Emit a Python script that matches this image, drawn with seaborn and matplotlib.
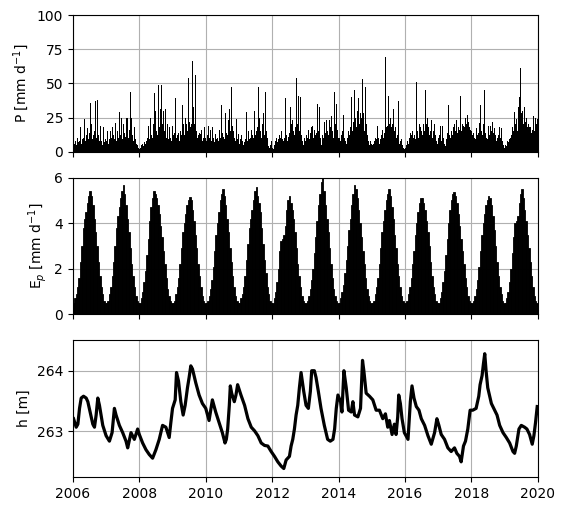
import numpy as np
import pandas as pd
import matplotlib
matplotlib.use("Agg")
import matplotlib.pyplot as plt
import seaborn as sns

years = list(range(2006, 2020))

# Precipitation, ~10-day values (36 per year), mm/d
p_2006 = [11, 6, 8, 5, 19, 10, 7, 8, 18, 6, 9, 10, 24, 8, 12, 17, 9, 10, 14, 36, 20, 9, 12, 15, 37, 10, 38, 12, 8, 19, 6, 8, 5, 18, 7, 9]
p_2007 = [8, 15, 6, 9, 15, 10, 18, 49, 12, 9, 21, 8, 15, 10, 29, 12, 25, 9, 20, 14, 33, 11, 25, 25, 10, 16, 44, 25, 12, 8, 18, 9, 6, 18, 5, 3]
p_2008 = [2, 3, 5, 6, 4, 7, 6, 8, 10, 19, 8, 9, 25, 12, 10, 20, 43, 30, 15, 12, 49, 18, 31, 12, 49, 20, 30, 15, 31, 10, 20, 9, 18, 10, 8, 19]
p_2009 = [9, 12, 14, 39, 10, 12, 14, 8, 15, 12, 34, 20, 12, 15, 25, 20, 15, 54, 22, 18, 20, 66, 33, 20, 56, 15, 16, 10, 12, 14, 13, 16, 8, 10, 18, 10]
p_2010 = [8, 12, 19, 9, 10, 16, 8, 18, 10, 7, 13, 9, 10, 8, 16, 10, 12, 34, 14, 11, 9, 28, 14, 12, 23, 31, 15, 47, 12, 19, 15, 10, 8, 24, 9, 13]
p_2011 = [6, 9, 12, 8, 5, 10, 7, 9, 29, 8, 15, 9, 10, 16, 12, 10, 30, 12, 43, 15, 18, 47, 25, 15, 10, 20, 28, 12, 44, 15, 10, 19, 4, 3, 5, 8]
p_2012 = [3, 2, 5, 8, 10, 7, 9, 12, 8, 10, 15, 9, 8, 10, 39, 12, 8, 11, 14, 33, 20, 28, 23, 15, 12, 18, 54, 20, 41, 15, 40, 12, 8, 5, 7, 10]
p_2013 = [8, 12, 10, 16, 9, 14, 18, 19, 10, 16, 12, 9, 14, 35, 15, 33, 10, 5, 12, 10, 22, 14, 23, 15, 24, 12, 23, 18, 26, 15, 10, 44, 20, 35, 16, 10]
p_2014 = [10, 16, 8, 12, 15, 27, 10, 8, 6, 10, 15, 12, 18, 40, 20, 15, 22, 45, 25, 18, 30, 39, 20, 28, 25, 53, 28, 20, 15, 47, 20, 12, 8, 5, 8, 6]
p_2015 = [5, 6, 8, 10, 19, 9, 19, 10, 6, 9, 12, 16, 10, 14, 69, 18, 15, 19, 41, 20, 25, 18, 20, 31, 15, 18, 10, 12, 37, 12, 6, 8, 9, 5, 3, 2]
p_2016 = [3, 5, 8, 6, 10, 14, 21, 12, 15, 10, 12, 9, 51, 15, 10, 20, 18, 15, 12, 52, 20, 15, 45, 20, 25, 18, 12, 15, 23, 10, 15, 20, 31, 12, 8, 6]
p_2017 = [10, 12, 19, 8, 19, 10, 6, 4, 9, 12, 14, 34, 12, 10, 15, 12, 18, 20, 15, 23, 14, 18, 22, 16, 41, 15, 20, 19, 18, 25, 20, 27, 22, 18, 16, 10]
p_2018 = [15, 12, 14, 10, 9, 17, 12, 14, 21, 34, 15, 12, 50, 20, 45, 14, 10, 9, 19, 12, 19, 15, 22, 14, 17, 20, 12, 8, 10, 12, 18, 10, 17, 8, 5, 3]
p_2019 = [5, 4, 6, 8, 7, 9, 10, 12, 18, 15, 29, 20, 24, 15, 33, 22, 40, 61, 28, 30, 20, 33, 22, 25, 18, 20, 18, 12, 18, 14, 16, 26, 15, 25, 20, 24]
p_by_year = [p_2006, p_2007, p_2008, p_2009, p_2010, p_2011, p_2012,
             p_2013, p_2014, p_2015, p_2016, p_2017, p_2018, p_2019]

# Potential evaporation, half-monthly (24 per year), mm/d
ep_2006 = [0.5, 0.7, 0.9, 1.2, 1.6, 2.3, 3.0, 3.8, 4.2, 4.5, 4.9, 5.2, 5.4, 5.2, 4.8, 4.2, 3.6, 3.0, 2.3, 1.7, 1.2, 0.9, 0.6, 0.5]
ep_2007 = [0.5, 0.6, 0.9, 1.2, 1.7, 2.3, 3.0, 3.8, 4.3, 4.7, 5.1, 5.4, 5.7, 5.3, 4.8, 4.2, 3.6, 2.9, 2.2, 1.7, 1.2, 0.8, 0.6, 0.5]
ep_2008 = [0.5, 0.7, 1.0, 1.4, 1.9, 2.6, 3.3, 4.1, 4.7, 5.1, 5.4, 5.3, 5.1, 4.8, 4.4, 3.9, 3.4, 2.8, 2.2, 1.6, 1.1, 0.8, 0.6, 0.5]
ep_2009 = [0.5, 0.6, 0.9, 1.2, 1.6, 2.2, 2.9, 3.6, 4.0, 4.4, 4.8, 5.0, 5.15, 5.0, 4.6, 4.1, 3.5, 2.9, 2.2, 1.7, 1.2, 0.8, 0.6, 0.5]
ep_2010 = [0.5, 0.6, 0.8, 1.1, 1.5, 2.1, 2.8, 3.5, 4.0, 4.5, 5.0, 5.3, 5.5, 5.2, 4.8, 4.2, 3.6, 2.9, 2.3, 1.7, 1.2, 0.8, 0.6, 0.5]
ep_2011 = [0.5, 0.7, 0.9, 1.2, 1.7, 2.4, 3.1, 3.8, 4.2, 4.6, 5.0, 5.4, 5.6, 5.2, 4.9, 4.5, 3.8, 3.1, 2.4, 1.8, 1.2, 0.9, 0.6, 0.5]
ep_2012 = [0.5, 0.7, 1.0, 1.4, 2.0, 2.8, 3.2, 3.3, 3.5, 3.9, 4.6, 5.0, 5.2, 4.9, 4.6, 4.2, 3.6, 2.9, 2.2, 1.7, 1.2, 0.8, 0.6, 0.5]
ep_2013 = [0.5, 0.6, 0.8, 1.1, 1.5, 2.0, 2.7, 3.4, 4.1, 4.8, 5.3, 5.8, 6.0, 5.4, 4.8, 4.2, 3.6, 2.9, 2.2, 1.6, 1.1, 0.8, 0.6, 0.5]
ep_2014 = [0.5, 0.7, 1.0, 1.3, 1.8, 2.4, 3.0, 3.7, 4.2, 4.8, 5.3, 5.7, 5.5, 5.1, 4.6, 4.0, 3.4, 2.8, 2.2, 1.6, 1.1, 0.8, 0.6, 0.5]
ep_2015 = [0.5, 0.6, 0.9, 1.2, 1.6, 2.2, 2.9, 3.6, 4.1, 4.6, 5.0, 5.3, 5.5, 5.2, 4.7, 4.2, 3.5, 2.9, 2.2, 1.7, 1.2, 0.8, 0.6, 0.5]
ep_2016 = [0.5, 0.6, 0.9, 1.2, 1.6, 2.2, 2.8, 3.5, 4.0, 4.5, 4.9, 5.1, 5.1, 4.9, 4.6, 4.1, 3.6, 3.0, 2.3, 1.7, 1.2, 0.9, 0.6, 0.5]
ep_2017 = [0.5, 0.7, 1.0, 1.4, 1.9, 2.6, 3.3, 4.0, 4.6, 5.0, 5.3, 5.35, 5.2, 4.9, 4.4, 3.9, 3.3, 2.8, 2.2, 1.6, 1.2, 0.8, 0.6, 0.5]
ep_2018 = [0.5, 0.6, 0.8, 1.1, 1.5, 2.1, 2.8, 3.5, 4.0, 4.4, 4.8, 5.0, 5.2, 5.1, 4.8, 4.3, 3.7, 3.0, 2.3, 1.7, 1.2, 0.9, 0.6, 0.5]
ep_2019 = [0.5, 0.7, 1.0, 1.4, 2.0, 2.7, 3.4, 4.0, 4.1, 4.3, 4.9, 5.3, 5.5, 5.1, 4.6, 4.1, 3.5, 2.9, 2.3, 1.7, 1.2, 0.8, 0.6, 0.5]
ep_by_year = [ep_2006, ep_2007, ep_2008, ep_2009, ep_2010, ep_2011, ep_2012,
              ep_2013, ep_2014, ep_2015, ep_2016, ep_2017, ep_2018, ep_2019]

# Head observations (decimal year, m)
h_time = [2006.02, 2006.10, 2006.15, 2006.20, 2006.25, 2006.32, 2006.40, 2006.45, 2006.52, 2006.60,
          2006.65, 2006.70, 2006.75, 2006.80, 2006.90, 2007.00, 2007.10, 2007.18, 2007.25, 2007.30,
          2007.40, 2007.50, 2007.60, 2007.65, 2007.75, 2007.85, 2007.95, 2008.00, 2008.10, 2008.20,
          2008.30, 2008.40, 2008.50, 2008.60, 2008.70, 2008.80, 2008.90, 2008.95, 2009.00, 2009.08,
          2009.12, 2009.18, 2009.25, 2009.32, 2009.38, 2009.45, 2009.50, 2009.55, 2009.60, 2009.70,
          2009.80, 2009.90, 2010.00, 2010.10, 2010.20, 2010.30, 2010.40, 2010.50, 2010.58,
          2010.62, 2010.66, 2010.71, 2010.74, 2010.78, 2010.86, 2010.91, 2010.96, 2011.06, 2011.17,
          2011.27, 2011.37, 2011.47, 2011.57, 2011.67, 2011.77, 2011.87, 2011.97, 2012.07, 2012.17,
          2012.27, 2012.35, 2012.42, 2012.52, 2012.57, 2012.62, 2012.67, 2012.72, 2012.77, 2012.82,
          2012.87, 2012.95, 2013.02, 2013.09, 2013.15, 2013.19, 2013.27, 2013.32, 2013.39, 2013.47,
          2013.57, 2013.67, 2013.75, 2013.83, 2013.88, 2013.93, 2013.98, 2014.06, 2014.10, 2014.16,
          2014.23, 2014.30, 2014.38, 2014.43, 2014.48, 2014.58, 2014.66, 2014.72, 2014.76, 2014.83,
          2014.93, 2015.03, 2015.13, 2015.23, 2015.33, 2015.41, 2015.48, 2015.53, 2015.61, 2015.68,
          2015.73, 2015.78, 2015.81, 2015.86, 2015.91, 2015.98, 2016.09, 2016.16, 2016.21, 2016.27,
          2016.34, 2016.42, 2016.49, 2016.59, 2016.69, 2016.79, 2016.89, 2016.96, 2017.02, 2017.09,
          2017.19, 2017.29, 2017.39, 2017.49, 2017.56, 2017.64, 2017.69, 2017.76, 2017.82, 2017.89,
          2017.96, 2018.04, 2018.14, 2018.22, 2018.26, 2018.32, 2018.36, 2018.40, 2018.44, 2018.49,
          2018.60, 2018.70, 2018.77, 2018.85, 2018.95, 2019.05, 2019.15, 2019.25, 2019.30, 2019.35,
          2019.43, 2019.50, 2019.60, 2019.67, 2019.75, 2019.83, 2019.88, 2019.93, 2019.98]
h_value = [263.21, 263.07, 263.12, 263.38, 263.55, 263.58, 263.55, 263.49, 263.32, 263.12,
           263.07, 263.27, 263.55, 263.43, 263.10, 262.93, 262.84, 262.98, 263.38, 263.27,
           263.10, 262.98, 262.84, 262.73, 262.98, 262.87, 263.04, 262.95, 262.81, 262.70,
           262.62, 262.56, 262.70, 262.87, 263.10, 263.07, 262.90, 263.15, 263.38, 263.52,
           263.97, 263.83, 263.49, 263.27, 263.43, 263.72, 263.89, 264.08, 264.03, 263.80,
           263.60, 263.46, 263.38, 263.18, 263.52, 263.32, 263.15, 262.98, 262.81,
           262.87, 263.04, 263.43, 263.75, 263.63, 263.49, 263.60, 263.77, 263.60, 263.43,
           263.21, 263.07, 263.01, 262.93, 262.81, 262.77, 262.76, 262.67, 262.59, 262.50,
           262.43, 262.39, 262.53, 262.59, 262.76, 262.87, 263.04, 263.27, 263.43, 263.72,
           263.97, 263.66, 263.43, 263.38, 263.66, 264.00, 264.00, 263.89, 263.66, 263.38,
           263.10, 262.87, 262.84, 262.87, 263.04, 263.38, 263.60, 263.49, 263.32, 264.00,
           263.72, 263.35, 263.32, 263.49, 263.27, 263.24, 263.38, 264.17, 264.00, 263.63,
           263.58, 263.52, 263.35, 263.35, 263.21, 263.29, 263.07, 263.18, 262.95, 263.12,
           262.95, 263.24, 263.60, 263.46, 263.21, 262.98, 262.87, 263.49, 263.75, 263.55,
           263.41, 263.35, 263.21, 263.10, 262.93, 262.79, 262.98, 263.21, 263.10, 262.95,
           262.87, 262.73, 262.67, 262.73, 262.64, 262.59, 262.50, 262.76, 262.84, 263.04,
           263.35, 263.35, 263.38, 263.58, 263.77, 263.92, 264.11, 264.28, 264.00, 263.72,
           263.46, 263.35, 263.27, 263.10, 262.98, 262.90, 262.81, 262.67, 262.64, 262.76,
           263.04, 263.10, 263.07, 263.04, 262.95, 262.79, 262.93, 263.15, 263.41]

x_ticks = [2006, 2008, 2010, 2012, 2014, 2016, 2018, 2020]

# ---- build tables
p_bins = 36
p_df = pd.DataFrame({
    "t": np.concatenate([y + (np.arange(p_bins) + 0.5) / p_bins for y in years]),
    "v": np.concatenate([np.array(v, float) for v in p_by_year]),
})
p_edges = 2006 + np.arange(len(years) * p_bins + 1) / p_bins

ep_bins = 24
ep_df = pd.DataFrame({
    "t": np.concatenate([y + (np.arange(ep_bins) + 0.5) / ep_bins for y in years]),
    "v": np.concatenate([np.array(v, float) for v in ep_by_year]),
})
ep_edges = 2006 + np.arange(len(years) * ep_bins + 1) / ep_bins

h_df = pd.DataFrame({"t": h_time, "h": h_value})

fig, axes = plt.subplots(3, 1, figsize=(5.65, 5.11), dpi=100, sharex=True)
fig.subplots_adjust(left=0.129, right=0.952, top=0.9706, bottom=0.0665, hspace=0.19)
ax1, ax2, ax3 = axes

sns.histplot(data=p_df, x="t", weights="v", bins=list(p_edges), ax=ax1, color="black",
             alpha=1, linewidth=0, element="bars")
sns.histplot(data=ep_df, x="t", weights="v", bins=list(ep_edges), ax=ax2, color="black",
             alpha=1, linewidth=0.6, edgecolor="black", element="bars")
sns.lineplot(data=h_df, x="t", y="h", ax=ax3, color="black", linewidth=2.3, sort=False)

ax1.set_ylim(0, 100)
ax1.set_yticks([0, 25, 50, 75, 100])
ax1.set_ylabel("P [mm d$^{-1}$]")
ax2.set_ylim(0, 6)
ax2.set_yticks([0, 2, 4, 6])
ax2.set_ylabel("E$_p$ [mm d$^{-1}$]")
ax3.set_ylim(262.25, 264.5)
ax3.set_yticks([263, 264])
ax3.set_ylabel("h [m]")

for ax in axes:
    ax.set_xlim(2006, 2020)
    ax.set_xticks(x_ticks)
    ax.set_axisbelow(True)
    ax.grid(True)
    ax.set_xlabel("")
ax3.set_xticklabels([str(t) for t in x_ticks])

fig.savefig("out.png", dpi=100)
